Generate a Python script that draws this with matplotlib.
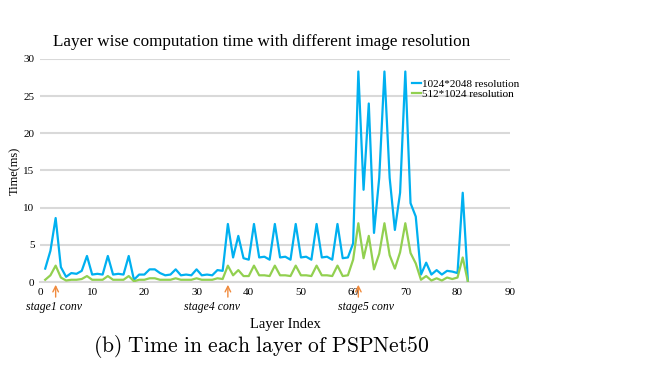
import numpy as np
import matplotlib
matplotlib.use("Agg")
import matplotlib.pyplot as plt

# layer index 1..82
layers = list(range(1, 83))

# 1024*2048 resolution (ms)
t_high = [1.8, 4.2, 8.6, 2.0, 0.7, 1.2, 1.1, 1.5, 3.5, 1.0,
          1.1, 1.0, 3.5, 1.0, 1.1, 1.0, 3.5, 0.3, 1.0, 1.0,
          1.7, 1.7, 1.2, 0.9, 1.0, 1.7, 0.9, 1.0, 0.9, 1.7,
          0.9, 1.0, 0.9, 1.6, 1.5, 7.8, 3.3, 6.2, 3.2, 3.0,
          7.8, 3.3, 3.4, 3.0, 7.8, 3.3, 3.4, 3.0, 7.8, 3.3,
          3.4, 3.0, 7.8, 3.3, 3.4, 3.0, 7.8, 3.2, 3.3, 5.2,
          28.3, 12.4, 24.0, 6.6, 14.0, 28.3, 14.0, 7.0, 12.0, 28.3,
          10.6, 8.8, 1.0, 2.6, 1.0, 1.6, 1.0, 1.5, 1.4, 1.2,
          12.0, 0.0]

# 512*1024 resolution (ms)
t_low = [0.3, 0.9, 2.2, 0.6, 0.2, 0.3, 0.3, 0.4, 0.8, 0.3,
         0.3, 0.3, 0.8, 0.3, 0.3, 0.3, 0.8, 0.1, 0.3, 0.3,
         0.5, 0.5, 0.3, 0.3, 0.3, 0.5, 0.3, 0.3, 0.3, 0.5,
         0.3, 0.3, 0.3, 0.5, 0.4, 2.2, 0.9, 1.6, 0.8, 0.8,
         2.2, 0.9, 0.9, 0.8, 2.2, 0.9, 0.9, 0.8, 2.2, 0.9,
         0.9, 0.8, 2.2, 0.9, 0.9, 0.8, 2.2, 0.8, 0.9, 3.0,
         7.9, 3.2, 6.2, 1.7, 3.8, 7.9, 3.6, 1.8, 4.0, 7.9,
         3.9, 2.5, 0.3, 0.8, 0.2, 0.5, 0.2, 0.6, 0.4, 0.6,
         3.3, 0.0]

stage_names = ['stage1 conv', 'stage4 conv', 'stage5 conv']
stage_layers = [3, 36, 61]

serif = 'Liberation Serif'
plt.rcParams['mathtext.fontset'] = 'cm'

fig = plt.figure(figsize=(6.71, 3.75), dpi=100)
ax = fig.add_axes([0.0596, 0.248, 0.700, 0.595])

ax.plot(layers, t_high, color='#00B0F0', lw=1.6, label='1024*2048 resolution', zorder=3)
ax.plot(layers, t_low, color='#92D050', lw=1.6, label='512*1024 resolution', zorder=3)

ax.set_xlim(0, 90)
ax.set_ylim(0, 30)
ax.set_xticks(np.arange(0, 91, 10))
ax.set_yticks(np.arange(0, 31, 5))
ax.yaxis.grid(True, color='#d9d9d9', lw=1.5)
ax.set_axisbelow(True)
for s in ['top', 'right', 'left']:
    ax.spines[s].set_visible(False)
ax.spines['bottom'].set_color('#d9d9d9')
ax.spines['bottom'].set_linewidth(1.5)
ax.tick_params(length=0, labelsize=8, pad=4)
for lab in ax.get_xticklabels() + ax.get_yticklabels():
    lab.set_fontfamily(serif)

ax.set_xlabel('Layer Index', fontsize=10.5, family=serif)
ax.xaxis.set_label_coords(0.523, -0.16)
ax.set_ylabel('Time(ms)', fontsize=9, family=serif, labelpad=2)

fig.text(0.39, 0.887, 'Layer wise computation time with different image resolution',
         ha='center', va='center', fontsize=12.3, family=serif)

leg = ax.legend(loc='upper left', bbox_to_anchor=(0.782, 0.93), frameon=False,
                prop={'family': serif, 'size': 8}, handlelength=0.8,
                handletextpad=0.1, labelspacing=0.05, borderaxespad=0)

# stage labels are not exactly centred on their arrows in the original
label_shift = [-0.3, -3.1, 1.4]
for name, lx, dx in zip(stage_names, stage_layers, label_shift):
    ax.annotate('', xy=(lx, 0), xycoords='data',
                xytext=(lx, -0.08), textcoords=('data', 'axes fraction'),
                arrowprops=dict(arrowstyle='->', color='#F08A3C', lw=1),
                annotation_clip=False)
    ax.text(lx + dx, -0.112, name, transform=ax.get_xaxis_transform(),
            ha='center', va='center', fontsize=8.5, style='italic', family=serif)

fig.text(0.39, 0.075, r'$\mathrm{(b)\ Time\ in\ each\ layer\ of\ PSPNet50}$',
         ha='center', va='center', fontsize=15.5)

fig.savefig('out.png', dpi=100)
